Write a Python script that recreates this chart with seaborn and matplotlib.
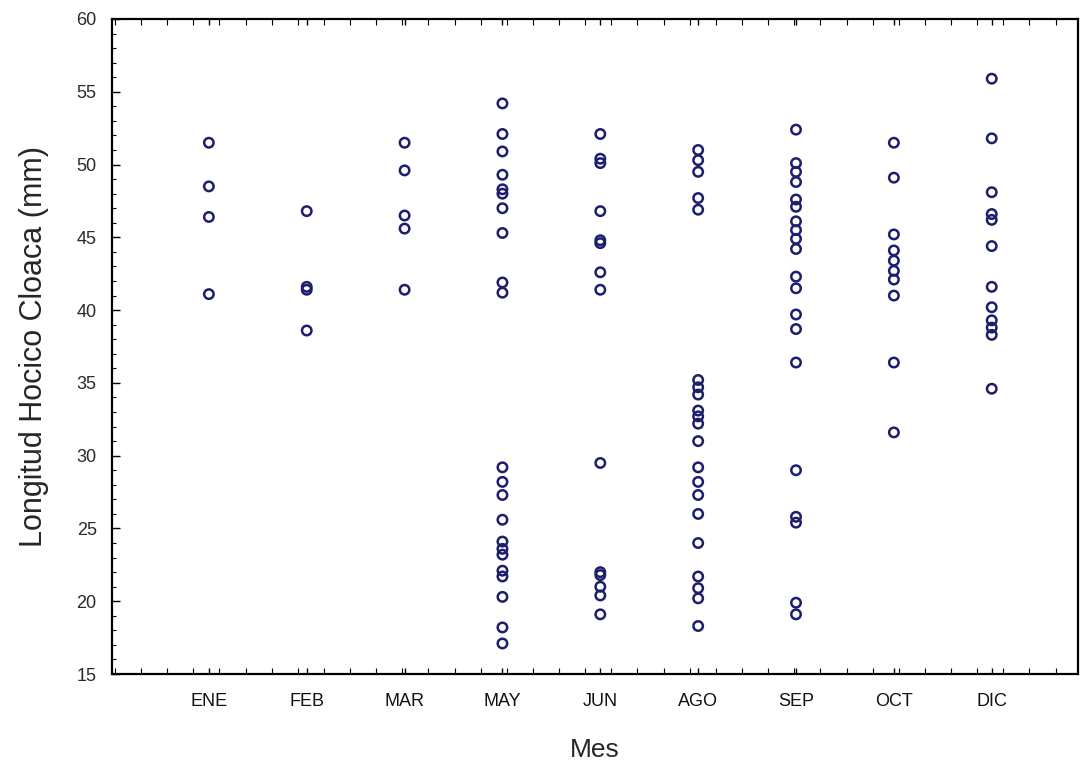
import numpy as np
import pandas as pd
import matplotlib
matplotlib.use("Agg")
import matplotlib.pyplot as plt
from matplotlib.ticker import MultipleLocator, FixedLocator
import seaborn as sns

# ---- data ----
months = ["ENE", "FEB", "MAR", "MAY", "JUN", "AGO", "SEP", "OCT", "DIC"]

ene = [51.5, 48.5, 46.4, 41.1]
feb = [46.8, 41.6, 41.4, 38.6]
mar = [51.5, 49.6, 46.5, 45.6, 41.4]
may = [54.2, 52.1, 50.9, 49.3, 48.3, 48.0, 47.0, 45.3, 41.9, 41.2,
       29.2, 28.2, 27.3, 25.6, 24.1, 23.6, 23.2, 22.1, 21.7, 20.3, 18.2, 17.1]
jun = [52.1, 50.4, 50.1, 46.8, 44.8, 44.6, 42.6, 41.4,
       29.5, 22.0, 21.8, 21.0, 20.4, 19.1]
ago = [51.0, 50.3, 49.5, 47.7, 46.9,
       35.2, 34.7, 34.2, 33.1, 32.7, 32.2, 31.0, 29.2, 28.2, 27.3, 26.0,
       24.0, 21.7, 20.9, 20.2, 18.3]
sep = [52.4, 50.1, 49.5, 48.8, 47.6, 47.1, 46.1, 45.5, 44.9, 44.2, 42.3,
       41.5, 39.7, 38.7, 36.4, 29.0, 25.8, 25.4, 19.9, 19.1]
octu = [51.5, 49.1, 45.2, 44.1, 43.4, 42.7, 42.1, 41.0, 36.4, 31.6]
dic = [55.9, 51.8, 48.1, 46.6, 46.2, 44.4, 41.6, 40.2, 39.3, 38.8, 38.3, 34.6]

series = [ene, feb, mar, may, jun, ago, sep, octu, dic]
df = pd.DataFrame({
    "Mes": [m for m, vals in zip(months, series) for _ in vals],
    "LHC": [v for vals in series for v in vals],
})

# ---- plot ----
sns.set_style("white")
plt.rcParams["font.family"] = ["Liberation Sans", "DejaVu Sans"]

fig = plt.figure(figsize=(10.8, 7.63), dpi=100)
ax = fig.add_axes([0.1037, 0.1166, 0.8943, 0.8585])

navy = "#1e1e6e"
sns.stripplot(data=df, x="Mes", y="LHC", order=months, jitter=False,
              size=6.8, ax=ax, color=navy)
for coll in ax.collections:
    coll.set_facecolor("none")
    coll.set_edgecolor(navy)
    coll.set_linewidth(1.8)

ax.set_ylim(15, 60)
ax.set_xlim(-0.99, 8.88)
ax.yaxis.set_major_locator(MultipleLocator(5))
ax.yaxis.set_minor_locator(MultipleLocator(1))
ax.xaxis.set_minor_locator(FixedLocator(np.arange(-0.96, 8.9, 0.267)))

for s in ax.spines.values():
    s.set_visible(True)
    s.set_color("black")
    s.set_linewidth(1.6)

ax.tick_params(axis="both", which="both", direction="in", top=True,
               right=False, bottom=True, left=True, color="black")
ax.tick_params(axis="y", which="major", length=6, width=1.0,
               labelsize=13, labelcolor="#2a2a2a", pad=11)
ax.tick_params(axis="y", which="minor", length=3, width=0.8)
ax.tick_params(axis="x", which="major", length=4, width=1.0,
               labelsize=13, labelcolor="#111111", pad=14)
ax.tick_params(axis="x", which="minor", length=4, width=0.8)

ax.set_xlabel("Mes", fontsize=19, labelpad=20,
              family=["Liberation Sans Narrow", "Liberation Sans"])
ax.set_ylabel("Longitud Hocico Cloaca (mm)", fontsize=22, labelpad=20,
              family=["Liberation Sans Narrow", "Liberation Sans"])

fig.savefig("out.png", dpi=100)
